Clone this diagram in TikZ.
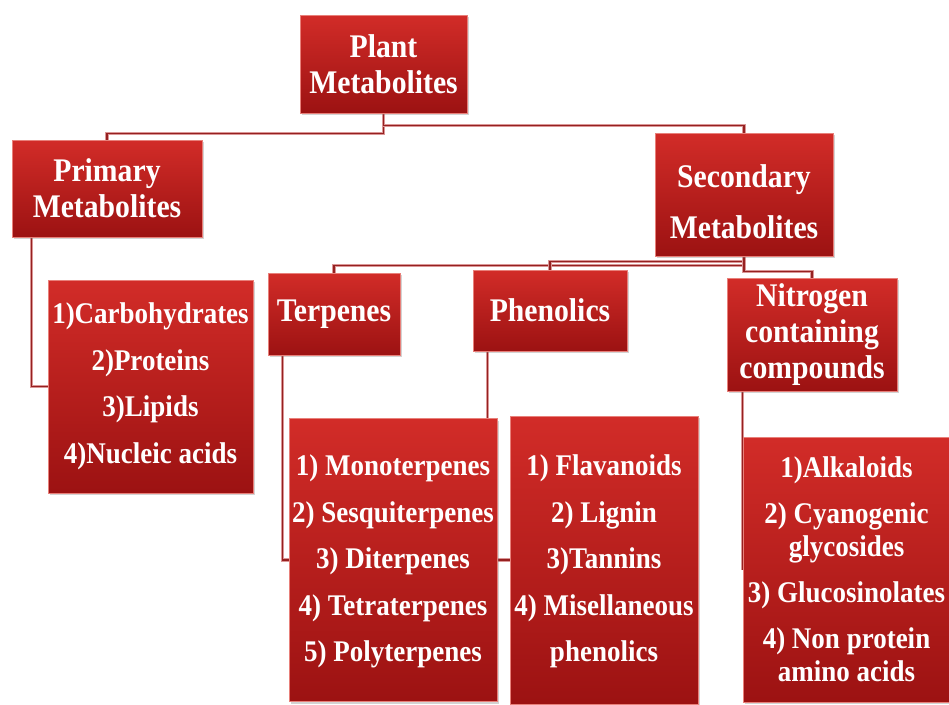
\documentclass[tikz,border=0pt]{standalone}
\usepackage{fontspec}
\setmainfont{Liberation Serif}[FakeStretch=0.9]
\usetikzlibrary{shadows,backgrounds}
\definecolor{boxtop}{RGB}{210,44,40}
\definecolor{boxbot}{RGB}{156,18,18}
\definecolor{boxedge}{RGB}{232,128,122}
\definecolor{linkred}{RGB}{150,32,32}
\definecolor{linkhalo}{RGB}{218,150,150}

\begin{document}
\begin{tikzpicture}[x=1pt,y=-1pt]
 \tikzstyle{metabox} = [draw=boxedge,line width=0.8pt,top color=boxtop,bottom color=boxbot,
   drop shadow={shadow xshift=2pt,shadow yshift=-2pt,opacity=0.35},text=white,align=center,inner sep=0pt]
 \tikzstyle{headbox} = [metabox,font=\fontsize{33}{36}\selectfont\bfseries]
 \tikzstyle{listbox} = [metabox,font=\fontsize{30}{46.5}\selectfont\bfseries]
 \tikzstyle{link} = [draw=linkred,line width=1.7pt,preaction={draw=linkhalo,line width=3.6pt}]

  \useasboundingbox (0,0) rectangle (949,704);

  % Boxes
  \node[headbox,minimum width=167pt,minimum height=98pt] (plant) at (383.5,64) {Plant\\Metabolites};
  \node[headbox,minimum width=190pt,minimum height=97pt] (primary) at (107,188.5) {Primary\\Metabolites};
  \node[headbox,minimum width=178pt,minimum height=123pt,font=\fontsize{33}{51}\selectfont\bfseries] (secondary) at (744,194.5)
    {\rule{0pt}{38pt}Secondary\\Metabolites};
  \node[headbox,minimum width=132pt,minimum height=82pt] (terpenes) at (334,314) {Terpenes};
  \node[headbox,minimum width=154pt,minimum height=81pt] (phenolics) at (550,310.5) {Phenolics};
  \node[headbox,minimum width=170pt,minimum height=113pt] (nitrogen) at (812,334.5) {Nitrogen\\containing\\compounds};

  % Lists
  \node[listbox,minimum width=205pt,minimum height=213pt] (primlist) at (150.5,386.5)
    {1)Carbohydrates\\2)Proteins\\3)Lipids\\4)Nucleic acids};
  \node[listbox,minimum width=208pt,minimum height=283pt] (terplist) at (393,560)
    {\rule{0pt}{24pt}1) Monoterpenes\\2) Sesquiterpenes\\3) Diterpenes\\4) Tetraterpenes\\5) Polyterpenes};
  \node[listbox,minimum width=188pt,minimum height=288pt] (phenlist) at (604,560)
    {\rule{0pt}{24pt}1) Flavanoids\\2) Lignin\\3)Tannins\\4) Misellaneous\\phenolics};
  \node[listbox,minimum width=207pt,minimum height=265pt,font=\fontsize{30}{33}\selectfont\bfseries] (nitrlist) at (846.5,569.5)
    {1)Alkaloids\\[13pt]2) Cyanogenic\\glycosides\\[13pt]3) Glucosinolates\\[13pt]4) Non protein\\amino acids};

  % Connectors
  \coordinate (primdrop) at ([xshift=20pt]primary.south west);
  \coordinate (terpdrop) at ([xshift=15pt]terpenes.south west);
  \coordinate (phendrop) at ([xshift=15pt]phenolics.south west);
  \coordinate (nitrdrop) at ([xshift=16pt]nitrogen.south west);
  \begin{pgfonlayer}{background}
  \draw[link] (plant.south) -- ++(0,20) -| (primary.north);
  \draw[link] (plant.south) -- ++(0,12) -| (secondary.north);
  \draw[link] (secondary.south) -- ++(0,9) -| (terpenes.north);
  \draw[link] (secondary.south) -- ++(0,5) -| (phenolics.north);
  \draw[link] (secondary.south) -- ++(0,15) -| (nitrogen.north);
  \draw[link] (primdrop) |- (primlist.west);
  \draw[link] (terpdrop) |- (terplist.west);
  \draw[link] (phendrop) |- (phenlist.west);
  \draw[link] (nitrdrop) |- (nitrlist.west);
  \end{pgfonlayer}

\end{tikzpicture}
\end{document}
